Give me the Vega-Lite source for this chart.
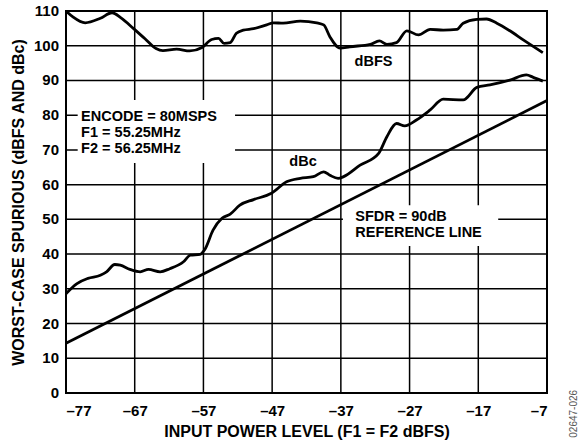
{
  "$schema": "https://vega.github.io/schema/vega-lite/v6.json",
  "autosize": {"type": "none"},
  "padding": {"left": 66, "top": 11, "right": 40, "bottom": 51},
  "width": 481,
  "height": 382,
  "background": "white",
  "config": {
    "font": "Liberation Sans",
    "view": {"stroke": "black", "strokeWidth": 2},
    "axis": {
      "domain": false, "ticks": false, "grid": false,
      "labelFont": "Liberation Sans", "labelFontWeight": "bold", "labelFontSize": 15, "labelColor": "black",
      "titleFont": "Liberation Sans", "titleFontWeight": "bold", "titleFontSize": 16, "titleColor": "black"
    }
  },
  "datasets": {
    "curves": [
      {"series": "dBFS", "x": -77, "y": 110}, {"series": "dBFS", "x": -76, "y": 108.3}, {"series": "dBFS", "x": -74.2, "y": 106.6},
      {"series": "dBFS", "x": -72, "y": 107.9}, {"series": "dBFS", "x": -70.3, "y": 109.5}, {"series": "dBFS", "x": -69, "y": 108},
      {"series": "dBFS", "x": -67.2, "y": 105}, {"series": "dBFS", "x": -65.5, "y": 102}, {"series": "dBFS", "x": -63.9, "y": 99.2},
      {"series": "dBFS", "x": -62.9, "y": 98.6}, {"series": "dBFS", "x": -60.9, "y": 99}, {"series": "dBFS", "x": -59, "y": 98.5},
      {"series": "dBFS", "x": -57.2, "y": 99.5}, {"series": "dBFS", "x": -55.8, "y": 101.8}, {"series": "dBFS", "x": -54.8, "y": 102.1},
      {"series": "dBFS", "x": -54, "y": 100.7}, {"series": "dBFS", "x": -53.1, "y": 100.9}, {"series": "dBFS", "x": -52.2, "y": 103.6},
      {"series": "dBFS", "x": -51.2, "y": 104.5}, {"series": "dBFS", "x": -49.7, "y": 104.9}, {"series": "dBFS", "x": -47.8, "y": 106},
      {"series": "dBFS", "x": -46.8, "y": 106.6}, {"series": "dBFS", "x": -45.4, "y": 106.5}, {"series": "dBFS", "x": -42.9, "y": 107.1},
      {"series": "dBFS", "x": -40.5, "y": 106.6}, {"series": "dBFS", "x": -39.5, "y": 106}, {"series": "dBFS", "x": -38.6, "y": 102.6},
      {"series": "dBFS", "x": -37.1, "y": 99.3}, {"series": "dBFS", "x": -35.7, "y": 99.7}, {"series": "dBFS", "x": -32.7, "y": 100.4},
      {"series": "dBFS", "x": -31.4, "y": 101.4}, {"series": "dBFS", "x": -30.3, "y": 100.4}, {"series": "dBFS", "x": -28.9, "y": 100.9},
      {"series": "dBFS", "x": -27.4, "y": 104.3}, {"series": "dBFS", "x": -25.7, "y": 103.1}, {"series": "dBFS", "x": -24, "y": 104.7},
      {"series": "dBFS", "x": -22.1, "y": 104.5}, {"series": "dBFS", "x": -20.1, "y": 104.7}, {"series": "dBFS", "x": -19.2, "y": 106.5},
      {"series": "dBFS", "x": -17.2, "y": 107.6}, {"series": "dBFS", "x": -15.8, "y": 107.7}, {"series": "dBFS", "x": -14.3, "y": 106.5},
      {"series": "dBFS", "x": -12.4, "y": 104.3}, {"series": "dBFS", "x": -10.4, "y": 101.6}, {"series": "dBFS", "x": -7.6, "y": 98},
      {"series": "dBc", "x": -77, "y": 28.6}, {"series": "dBc", "x": -75.4, "y": 31.5}, {"series": "dBc", "x": -73.8, "y": 33},
      {"series": "dBc", "x": -72, "y": 33.9}, {"series": "dBc", "x": -71.1, "y": 34.9}, {"series": "dBc", "x": -69.9, "y": 37},
      {"series": "dBc", "x": -69.1, "y": 36.8}, {"series": "dBc", "x": -67.7, "y": 35.6}, {"series": "dBc", "x": -66.2, "y": 34.9},
      {"series": "dBc", "x": -65, "y": 35.6}, {"series": "dBc", "x": -63.3, "y": 34.9}, {"series": "dBc", "x": -61.9, "y": 35.8},
      {"series": "dBc", "x": -59.9, "y": 37.8}, {"series": "dBc", "x": -58.9, "y": 39.7}, {"series": "dBc", "x": -57.5, "y": 39.9},
      {"series": "dBc", "x": -56.8, "y": 41.3}, {"series": "dBc", "x": -55.6, "y": 46.9}, {"series": "dBc", "x": -54.3, "y": 50.3},
      {"series": "dBc", "x": -53.1, "y": 51.5}, {"series": "dBc", "x": -51.7, "y": 54.1}, {"series": "dBc", "x": -49.7, "y": 55.7},
      {"series": "dBc", "x": -47.1, "y": 57.5}, {"series": "dBc", "x": -44.9, "y": 60.8}, {"series": "dBc", "x": -42.9, "y": 61.8},
      {"series": "dBc", "x": -41, "y": 62.3}, {"series": "dBc", "x": -39.5, "y": 63.7}, {"series": "dBc", "x": -38.6, "y": 62.7},
      {"series": "dBc", "x": -37.4, "y": 61.8}, {"series": "dBc", "x": -36.6, "y": 62.3}, {"series": "dBc", "x": -34.2, "y": 65.6},
      {"series": "dBc", "x": -31.5, "y": 69}, {"series": "dBc", "x": -30.3, "y": 73.8}, {"series": "dBc", "x": -28.9, "y": 77.6},
      {"series": "dBc", "x": -27.7, "y": 76.9}, {"series": "dBc", "x": -26, "y": 78.6}, {"series": "dBc", "x": -24, "y": 81.5},
      {"series": "dBc", "x": -22.1, "y": 84.6}, {"series": "dBc", "x": -19.2, "y": 84.4}, {"series": "dBc", "x": -17.2, "y": 88},
      {"series": "dBc", "x": -15.3, "y": 88.7}, {"series": "dBc", "x": -12.4, "y": 90.1}, {"series": "dBc", "x": -10, "y": 91.6},
      {"series": "dBc", "x": -9, "y": 90.9}, {"series": "dBc", "x": -7.6, "y": 89.8},
      {"series": "ref", "x": -77, "y": 14.3}, {"series": "ref", "x": -7, "y": 84.2}
    ],
    "vgrid": [
      {"x": -67}, {"x": -57}, {"x": -47}, {"x": -37}, {"x": -27}, {"x": -17}
    ],
    "yticks": [
      {"y": 0}, {"y": 10}, {"y": 20}, {"y": 30}, {"y": 40}, {"y": 50}, {"y": 60}, {"y": 70}, {"y": 80}, {"y": 90}, {"y": 100}, {"y": 110}
    ],
    "boxes": [
      {"x1": -75.3, "x2": -52.4, "y1": 66.2, "y2": 84.4},
      {"x1": -36.7, "x2": -14.1, "y1": 42.3, "y2": 54.1}
    ],
    "labels": [
      {"text": "ENCODE = 80MSPS", "x": -74.8, "y": 79.6},
      {"text": "F1 = 55.25MHz", "x": -74.8, "y": 75.0},
      {"text": "F2 = 56.25MHz", "x": -74.8, "y": 70.4},
      {"text": "SFDR = 90dB", "x": -34.9, "y": 50.8},
      {"text": "REFERENCE LINE", "x": -34.9, "y": 46.2},
      {"text": "dBFS", "x": -35, "y": 95.3},
      {"text": "dBc", "x": -44.5, "y": 66.5}
    ],
    "note": [{"text": "02647-026", "x": -7, "y": -6}]
  },
  "layer": [
    {
      "data": {"name": "vgrid"},
      "mark": {"type": "rule", "color": "black", "strokeWidth": 1.5},
      "encoding": {
        "x": {"field": "x", "type": "quantitative", "scale": {"domain": [-77, -7], "nice": false, "zero": false},
              "axis": {"values": [-77, -67, -57, -47, -37, -27, -17, -7], "title": "INPUT POWER LEVEL (F1 = F2 dBFS)",
                       "labelExpr": "datum.value < 0 ? '–' + abs(datum.value) : '' + datum.value", "labelPadding": 10, "titlePadding": 5}}
      }
    },
    {
      "data": {"name": "yticks"},
      "mark": {"type": "rule", "color": "black", "strokeWidth": 1.5},
      "encoding": {
        "y": {"field": "y", "type": "quantitative", "scale": {"domain": [0, 110], "nice": false},
              "axis": {"values": [0, 110], "labels": false, "title": "WORST-CASE SPURIOUS (dBFS AND dBc)", "titlePadding": 40}}
      }
    },
    {
      "data": {"name": "yticks"},
      "mark": {"type": "text", "align": "right", "baseline": "middle", "fontSize": 15, "fontWeight": "bold", "font": "Liberation Sans", "color": "black", "dx": -7},
      "encoding": {
        "x": {"datum": -77, "type": "quantitative"},
        "y": {"field": "y", "type": "quantitative"},
        "text": {"field": "y", "type": "quantitative", "format": "d"}
      }
    },
    {
      "data": {"name": "boxes"},
      "mark": {"type": "rect", "fill": "white", "stroke": null},
      "encoding": {
        "x": {"field": "x1", "type": "quantitative"},
        "x2": {"field": "x2"},
        "y": {"field": "y1", "type": "quantitative"},
        "y2": {"field": "y2"}
      }
    },
    {
      "data": {"name": "curves"},
      "mark": {"type": "line", "color": "black", "strokeWidth": 2.8, "interpolate": "monotone"},
      "encoding": {
        "x": {"field": "x", "type": "quantitative"},
        "y": {"field": "y", "type": "quantitative"},
        "detail": {"field": "series"}
      }
    },
    {
      "data": {"name": "labels"},
      "mark": {"type": "text", "align": "left", "baseline": "middle", "fontSize": 14.5, "fontWeight": "bold", "font": "Liberation Sans", "color": "black"},
      "encoding": {
        "x": {"field": "x", "type": "quantitative"},
        "y": {"field": "y", "type": "quantitative"},
        "text": {"field": "text"}
      }
    },
    {
      "data": {"name": "note"},
      "mark": {"type": "text", "angle": 270, "align": "center", "baseline": "middle", "fontSize": 10, "font": "Liberation Sans", "color": "#555555", "dy": 27},
      "encoding": {
        "x": {"field": "x", "type": "quantitative"},
        "y": {"field": "y", "type": "quantitative"},
        "text": {"field": "text"}
      }
    }
  ]
}
